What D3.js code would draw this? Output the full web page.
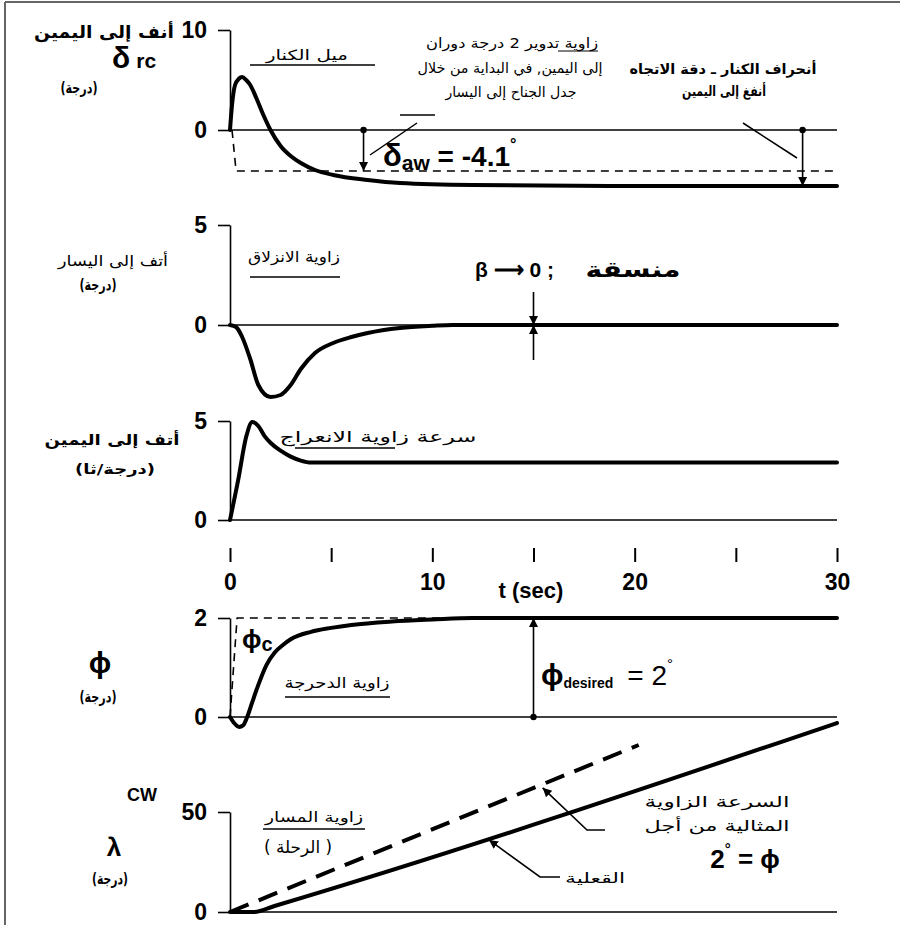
<!DOCTYPE html>
<html><head><meta charset="utf-8">
<script src="https://cdn.jsdelivr.net/npm/d3@7"></script>
<style>body{margin:0;background:#fff}svg{display:block}</style>
</head><body><svg id="c" width="900" height="925"></svg>
<script>
// ---- data ----
const tTicks = [0,5,10,15,20,25,30];
const tTickLabels = ["0","","10","","20","","30"];

const deltaT = [0,0.1,0.25,0.45,0.6,0.8,1.0,1.3,1.65,2.0,2.5,3.0,3.5,4.2,5.1,6.8,8.4,12,20,30];
const deltaV = [0,2.5,4.5,5.15,5.3,5.0,4.5,3.2,1.5,0,-1.6,-2.6,-3.3,-4.0,-4.5,-5.0,-5.3,-5.5,-5.6,-5.6];
const deltaAwT = [0.1,0.3,30];
const deltaAwV = [0,-4.1,-4.1];

const betaT = [0,0.3,0.6,1.0,1.4,2.0,2.5,3.0,3.5,4.2,5.1,6.0,6.8,8.4,10,11,30];
const betaV = [0,-0.1,-0.6,-1.7,-3.0,-3.6,-3.5,-3.0,-2.2,-1.4,-0.9,-0.6,-0.4,-0.15,-0.04,0,0];

const yawT = [0,0.4,0.8,1.1,1.4,1.7,2.0,2.5,3.0,3.5,4.0,30];
const yawV = [0,2.0,4.2,4.95,4.75,4.25,3.9,3.5,3.2,3.0,2.9,2.9];

const phiT = [0,0.2,0.45,0.65,0.85,1.1,1.4,1.8,2.2,2.6,3,4,5,6,8,10,12,30];
const phiV = [0,-0.12,-0.2,-0.17,0,0.3,0.65,1.05,1.3,1.45,1.57,1.72,1.8,1.86,1.93,1.97,2.0,2.0];
const phiCT = [0,0.35,30];
const phiCV = [0,2,2];

const lamT = [0,1.2,2.2,30];
const lamV = [0,0,3,94.5];
const lamIdealT = [0,20.2];
const lamIdealV = [0,83.5];

// ---- setup ----
const svg = d3.select("#c");
const AR = "'DejaVu Sans', sans-serif";
const LAT = "'Liberation Sans', Arial, sans-serif";

svg.append("defs").append("marker").attr("id","ah")
  .attr("viewBox","0 0 10 10").attr("refX",10).attr("refY",5)
  .attr("markerWidth",9).attr("markerHeight",13).attr("markerUnits","userSpaceOnUse")
  .attr("orient","auto").append("path").attr("d","M0,0L10,5L0,10Z").attr("fill","#000");

// frame
svg.append("line").attr("x1",5).attr("y1",2).attr("x2",5).attr("y2",925).attr("stroke","#666").attr("stroke-width",2);
svg.append("line").attr("x1",5).attr("y1",2).attr("x2",900).attr("y2",2).attr("stroke","#666").attr("stroke-width",2);

const x = d3.scaleLinear().domain([0,30]).range([230,837]);

const panels = [
  {y: d3.scaleLinear().domain([0,10]).range([130,30]), top:10},
  {y: d3.scaleLinear().domain([0,5]).range([325,225]), top:5},
  {y: d3.scaleLinear().domain([0,5]).range([520,421]), top:5},
  {y: d3.scaleLinear().domain([0,2]).range([717,618]), top:2},
  {y: d3.scaleLinear().domain([0,50]).range([912,812]), top:50}
];

panels.forEach(p => {
  const g = svg.append("g").attr("transform","translate(230,0)")
    .call(d3.axisLeft(p.y).tickValues([0,p.top]).tickSize(12).tickSizeOuter(0).tickPadding(11).tickFormat(d3.format("d")));
  g.selectAll("path,line").attr("stroke","#000").attr("stroke-width",1.6);
  g.selectAll("text").attr("font-family",LAT).attr("font-weight","bold").attr("font-size",23).attr("fill","#000");
  svg.append("line").attr("x1",x(0)).attr("x2",x(30)).attr("y1",p.y(0)).attr("y2",p.y(0))
    .attr("stroke","#000").attr("stroke-width",1.6);
});

// time axis
const gx = svg.append("g").attr("transform","translate(0,548)")
  .call(d3.axisBottom(x).tickValues(tTicks).tickSize(14).tickPadding(12)
    .tickFormat((d,i)=>tTickLabels[i]));
gx.select(".domain").remove();
gx.selectAll("line").attr("stroke","#000").attr("stroke-width",2);
gx.selectAll("text").attr("font-family",LAT).attr("font-weight","bold").attr("font-size",23).attr("fill","#000");

function series(T,V){ return T.map((t,i)=>[t,V[i]]); }
function interp(T,V,t){ for(let i=1;i<T.length;i++){ if(t<=T[i]){ const f=(t-T[i-1])/(T[i]-T[i-1]); return V[i-1]+f*(V[i]-V[i-1]); } } return V[V.length-1]; }

function drawLine(pi, T, V, opts){
  const y = panels[pi].y;
  const line = d3.line().x(d=>x(d[0])).y(d=>y(d[1])).curve(opts.curve||d3.curveMonotoneX);
  svg.append("path").datum(series(T,V)).attr("d",line).attr("fill","none")
    .attr("stroke","#000").attr("stroke-width",opts.w||4)
    .attr("stroke-dasharray",opts.dash||null).attr("stroke-linejoin","round").attr("stroke-linecap",opts.cap||"round");
}

drawLine(0, deltaAwT, deltaAwV, {w:1.6, dash:"8,6", curve:d3.curveLinear, cap:"butt"});
drawLine(0, deltaT, deltaV, {w:4});
drawLine(1, betaT, betaV, {w:4});
drawLine(2, yawT, yawV, {w:4});
drawLine(3, phiCT, phiCV, {w:1.6, dash:"8,6", curve:d3.curveLinear, cap:"butt"});
drawLine(3, phiT, phiV, {w:4});
drawLine(4, lamIdealT, lamIdealV, {w:4, dash:"20,11", curve:d3.curveLinear, cap:"butt"});
drawLine(4, lamT, lamV, {w:4});

// ---- helpers ----
function arText(xc,y,s,size,weight,len){
  const e = svg.append("text").attr("x",xc).attr("y",y).attr("font-family",AR).attr("font-size",size)
    .attr("font-weight",weight||"normal").attr("text-anchor","middle")
    .attr("direction","rtl").style("unicode-bidi","embed").attr("fill","#000").text(s);
  if(len) e.attr("textLength",len).attr("lengthAdjust","spacingAndGlyphs");
}
function seg(x1,y1,x2,y2,w){ svg.append("line").attr("x1",x1).attr("y1",y1).attr("x2",x2).attr("y2",y2).attr("stroke","#000").attr("stroke-width",w||1.5); }
function arrow(pts){ svg.append("path").attr("d",d3.line()(pts)).attr("fill","none").attr("stroke","#000").attr("stroke-width",1.6).attr("marker-end","url(#ah)"); }
function dot(cx,cy){ svg.append("circle").attr("cx",cx).attr("cy",cy).attr("r",3.2).attr("fill","#000"); }

// ---- panel 1 labels ----
arText(104,38,"أنف إلى اليمين",17,"bold",140);
let t = svg.append("text").attr("x",112).attr("y",68).attr("font-family",LAT).attr("font-weight","bold").attr("fill","#000");
t.append("tspan").attr("font-size",30).text("δ");
t.append("tspan").attr("font-size",21).attr("dx",6).text("rc");
arText(79,93,"(درجة)",15,"bold",37);
arText(307,60,"ميل الكنار",14,"normal",82);
seg(250,65,375,65,1.3);
arText(512,48,"زاوية تدوير  2  درجة دوران",14,"normal",172);
seg(558,51,598,51,1.2);
arText(510,73,"إلى اليمين, في البداية من خلال",14,"normal",185);
arText(511,97,"جدل الجناح إلى اليسار",14,"normal",131);
arText(723,74,"أنحراف الكنار ـ دقة الاتجاه",14,"bold",187);
arText(724,96,"أنفغ إلى اليمين",14,"bold",84);

// delta_aw annotation
const p1 = panels[0].y;
dot(x(6.6),p1(0));
arrow([[x(6.6),p1(0)],[x(6.6),p1(-4.1)]]);
seg(370,155,417,123,1.5);
seg(400,115,435,115,1.5);
t = svg.append("text").attr("x",383).attr("y",166).attr("font-family",LAT).attr("font-weight","bold").attr("fill","#000");
t.append("tspan").attr("font-size",31).text("δ");
t.append("tspan").attr("font-size",21).attr("dy",4).text("aw");
t.append("tspan").attr("font-size",28).attr("dy",-4).text(" =  -4.1");
t.append("tspan").attr("font-size",16).attr("dy",-16).text("°");
// rudder deflection annotation
dot(x(28.3),p1(0));
arrow([[x(28.3),p1(0)],[x(28.3),p1(-5.6)]]);
seg(743,123,797,158,1.5);

// ---- panel 2 labels ----
arText(113,266,"أتف إلى اليسار",15,"normal",110);
arText(98,290,"(درجة)",15,"bold",37);
arText(294,262,"زاوية الانزلاق",15,"normal",92);
seg(250,277,340,277,1.3);
svg.append("text").attr("x",475).attr("y",277).attr("font-family",LAT).attr("font-weight","bold")
  .attr("font-size",21).attr("fill","#000").text("β ⟶ 0 ;");
arText(633,277,"منسقة",22,"bold",95);
const p2 = panels[1].y;
arrow([[x(15),292],[x(15),p2(0)]]);
arrow([[x(15),360],[x(15),p2(0)]]);

// ---- panel 3 labels ----
arText(112,445,"أتف إلى اليمين",15,"bold",135);
arText(115,474,"(درجة/ثا)",14,"bold",80);
arText(378,442,"سرعة زاوية الانعراج",15,"normal",197);
seg(295,448,395,448,1.3);

svg.append("text").attr("x",531).attr("y",598).attr("text-anchor","middle").attr("font-family",LAT)
  .attr("font-weight","bold").attr("font-size",22).attr("fill","#000").text("t (sec)");

// ---- phi panel ----
svg.append("text").attr("x",100).attr("y",673).attr("text-anchor","middle").attr("font-family",LAT)
  .attr("font-weight","bold").attr("font-size",30).attr("fill","#000").text("ϕ");
arText(98,702,"(درجة)",15,"bold",37);
t = svg.append("text").attr("x",242).attr("y",648).attr("font-family",LAT).attr("font-weight","bold").attr("fill","#000");
t.append("tspan").attr("font-size",26).text("ϕ");
t.append("tspan").attr("font-size",20).attr("dy",3).text("c");
arText(337,688,"زاوية الدحرجة",15,"normal",105);
seg(285,697,390,697,1.3);
const p4 = panels[3].y;
dot(x(15),p4(0));
arrow([[x(15),p4(0)],[x(15),p4(2)]]);
t = svg.append("text").attr("x",541).attr("y",685).attr("font-family",LAT).attr("fill","#000");
t.append("tspan").attr("font-size",30).attr("font-weight","bold").text("ϕ");
t.append("tspan").attr("font-size",14).attr("font-weight","bold").attr("dy",3).text("desired");
t.append("tspan").attr("font-size",28).attr("dy",-3).attr("dx",14).text("= 2");
t.append("tspan").attr("font-size",15).attr("dy",-16).text("°");

// ---- lambda panel ----
svg.append("text").attr("x",142).attr("y",801).attr("text-anchor","middle").attr("font-family",LAT)
  .attr("font-weight","bold").attr("font-size",18).attr("fill","#000").text("CW");
svg.append("text").attr("x",114).attr("y",856).attr("text-anchor","middle").attr("font-family",LAT)
  .attr("font-weight","bold").attr("font-size",26).attr("fill","#000").text("λ");
arText(110,884,"(درجة)",15,"bold",36);
arText(314,822,"زاوية المسار",14,"normal",98);
seg(263,829,365,829,1.3);
arText(298,853,"( الرحلة )",17,"normal",68);

const p5 = panels[4].y;
const tIdeal = 15.5, tAct = 12.85;
arrow([[605,830],[587,830],[x(tIdeal)-1,p5(interp(lamIdealT,lamIdealV,tIdeal))+4]]);
arrow([[560,877],[540,877],[x(tAct)-1,p5(interp(lamT,lamV,tAct))+4]]);
arText(717,807,"السرعة الزاوية",15,"normal",145);
arText(717,831,"المثالية من أجل",15,"normal",145);
t = svg.append("text").attr("x",745).attr("y",868).attr("text-anchor","middle").attr("font-family",LAT).attr("font-weight","bold").attr("fill","#000");
t.append("tspan").attr("font-size",26).text("2");
t.append("tspan").attr("font-size",15).attr("dy",-14).text("°");
t.append("tspan").attr("font-size",26).attr("dy",14).text(" = ϕ");
arText(595,883,"القعلية",14,"normal",60);
</script></body></html>
